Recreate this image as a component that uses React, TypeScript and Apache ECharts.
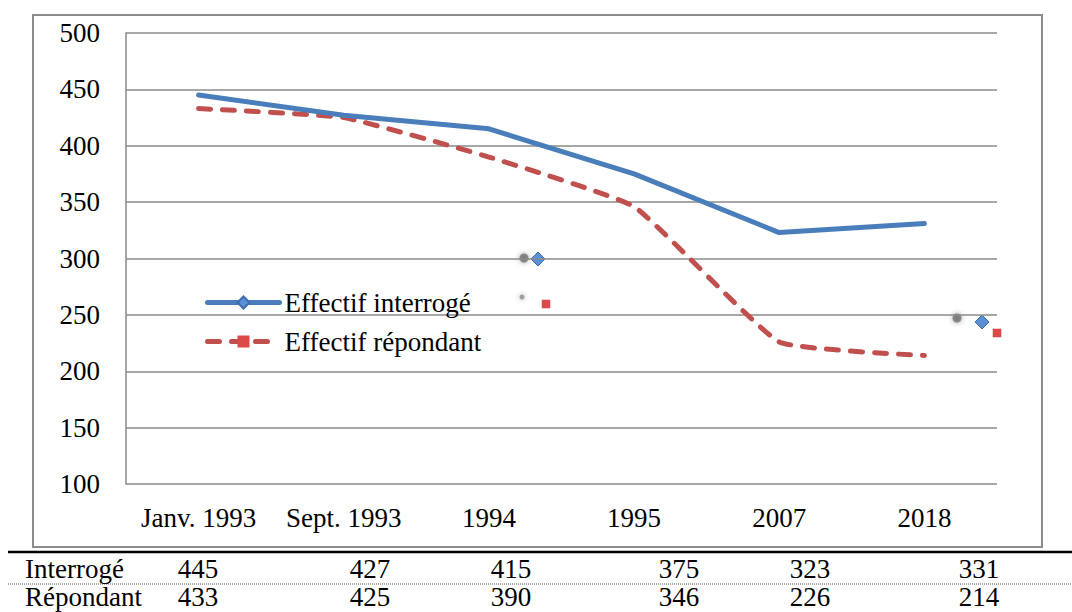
import { useEffect, useRef } from "react";
import * as echarts from "echarts";

// ---- data ----
const categories = ["Janv. 1993", "Sept. 1993", "1994", "1995", "2007", "2018"];
const interroge = [445, 427, 415, 375, 323, 331];
const repondant = [433, 425, 390, 346, 226, 214];
const seriesNames = ["Effectif interrogé", "Effectif répondant"];
const rowLabels = ["Interrogé", "Répondant"];
const yMin = 100;
const yMax = 500;
const yStep = 50;

// ---- layout (not data) ----
const tableColX = [198, 370, 511, 679, 810, 979];
const tableRowY = [569, 597];
const FONT = "'Liberation Serif', 'Times New Roman', serif";
const FS = 27;
const BLUE = "#4A7EBB";
const RED = "#C0504D";

export default function App() {
  const ref = useRef<HTMLDivElement>(null);

  useEffect(() => {
    if (!ref.current) return;
    const chart = echarts.init(ref.current, undefined, { renderer: "svg" });

    const tableTexts: any[] = [];
    rowLabels.forEach((lab, r) => {
      tableTexts.push({
        type: "text",
        style: {
          text: lab,
          x: 25,
          y: tableRowY[r],
          textAlign: "left",
          textVerticalAlign: "middle",
          fontSize: FS,
          fontFamily: FONT,
          fill: "#000",
        },
      });
      const vals = r === 0 ? interroge : repondant;
      vals.forEach((v, i) => {
        tableTexts.push({
          type: "text",
          style: {
            text: String(v),
            x: tableColX[i],
            y: tableRowY[r],
            textAlign: "center",
            textVerticalAlign: "middle",
            fontSize: FS,
            fontFamily: FONT,
            fill: "#000",
          },
        });
      });
    });

    const diamond = (cx: number, cy: number, h: number) => ({
      type: "polygon",
      shape: {
        points: [
          [cx, cy - h],
          [cx + h, cy],
          [cx, cy + h],
          [cx - h, cy],
        ],
      },
      style: { fill: "#5B8FD8", stroke: "#3D6CB0", lineWidth: 1 },
    });
    const square = (cx: number, cy: number, s: number) => ({
      type: "rect",
      shape: { x: cx - s / 2, y: cy - s / 2, width: s, height: s },
      style: { fill: "#DC4A47", stroke: "#C44A47", lineWidth: 0.5 },
    });
    const blur = (cx: number, cy: number, r: number, a: number) => ({
      type: "circle",
      shape: { cx, cy, r },
      style: { fill: `rgba(90,90,90,${a})`, shadowBlur: 5, shadowColor: "rgba(70,70,70,0.9)" },
    });

    chart.setOption({
      animation: false,
      backgroundColor: "#fff",
      textStyle: { fontFamily: FONT, color: "#000" },
      grid: { left: 126, top: 33, right: 75, bottom: 128, containLabel: false },
      legend: {
        orient: "vertical",
        left: 205,
        top: 289,
        padding: 0,
        itemWidth: 72,
        itemHeight: 15,
        itemGap: 12,
        lineStyle: { width: 5 },
        textStyle: { fontSize: FS, fontFamily: FONT, color: "#000" },
        data: seriesNames,
      },
      xAxis: {
        type: "category",
        data: categories,
        boundaryGap: true,
        axisLine: { show: false },
        axisTick: { show: false },
        axisLabel: { fontSize: FS, fontFamily: FONT, color: "#000", margin: 20, interval: 0 },
      },
      yAxis: {
        type: "value",
        min: yMin,
        max: yMax,
        interval: yStep,
        axisLine: { show: true, lineStyle: { color: "#8a8a8a", width: 1.5 } },
        axisTick: { show: false },
        axisLabel: { fontSize: FS, fontFamily: FONT, color: "#000", margin: 26 },
        splitLine: { show: true, lineStyle: { color: "#8a8a8a", width: 1.5 } },
      },
      series: [
        {
          name: seriesNames[0],
          type: "line",
          data: interroge,
          symbol: "diamond",
          symbolSize: 14,
          showSymbol: false,
          smooth: false,
          lineStyle: { color: BLUE, width: 5, cap: "round", join: "round" },
          itemStyle: { color: "#5B8FD8", borderColor: "#3D6CB0", borderWidth: 1 },
          z: 3,
        },
        {
          name: seriesNames[1],
          type: "line",
          data: repondant,
          symbol: "rect",
          symbolSize: 8,
          showSymbol: false,
          smooth: 0.12,
          lineStyle: { color: RED, width: 5, type: [12, 12], cap: "round", join: "round" },
          itemStyle: { color: "#DC4A47" },
          z: 2,
        },
      ],
      graphic: [
        {
          type: "rect",
          shape: { x: 33, y: 15, width: 1009, height: 532 },
          style: { fill: "none", stroke: "#8c8c8c", lineWidth: 2 },
          silent: true,
        },
        blur(524, 258, 4.5, 0.6),
        blur(522, 297, 2.5, 0.5),
        blur(957, 318, 4.5, 0.6),
        diamond(538, 259, 7),
        square(546, 304, 8),
        diamond(982, 322, 7),
        square(997, 333, 8),
        {
          type: "line",
          shape: { x1: 8, y1: 552, x2: 1072, y2: 552 },
          style: { stroke: "#000", lineWidth: 2.5 },
        },
        {
          type: "line",
          shape: { x1: 8, y1: 584, x2: 1072, y2: 584 },
          style: { stroke: "#555", lineWidth: 1, lineDash: [1, 1] },
        },
        ...tableTexts,
      ],
    });

    return () => chart.dispose();
  }, []);

  return (
    <div
      ref={ref}
      style={{ position: "fixed", left: 0, top: 0, width: 1072, height: 612, background: "#fff" }}
    />
  );
}
